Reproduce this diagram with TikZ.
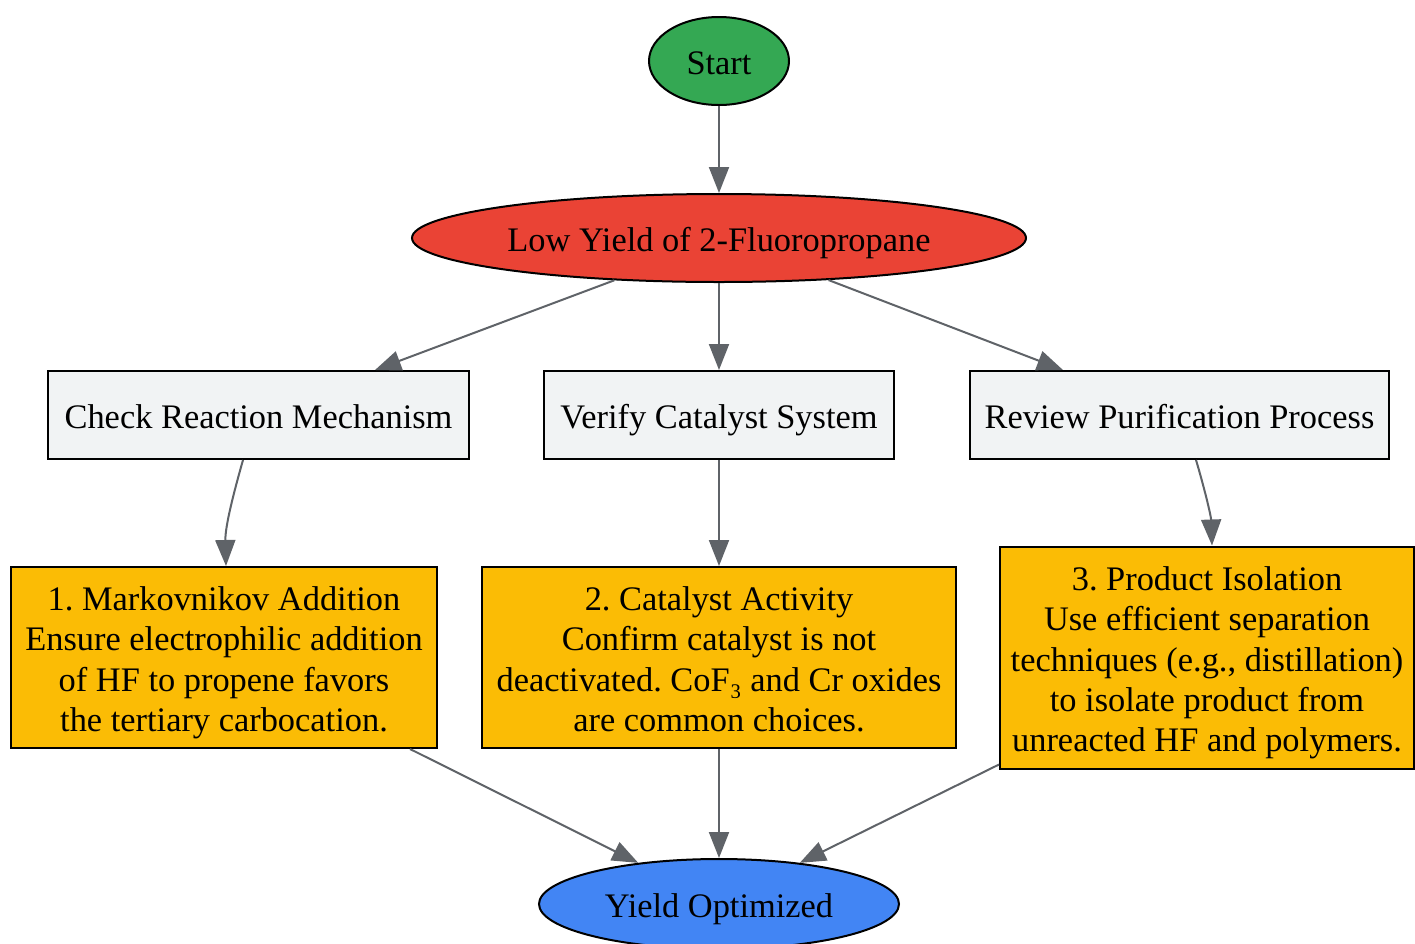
\documentclass[tikz,border=0pt]{standalone}
\usepackage{fontspec}
\setmainfont{Liberation Serif}
\usetikzlibrary{shapes.geometric,positioning,arrows.meta}

\definecolor{startgreen}{HTML}{34A853}
\definecolor{problemred}{HTML}{EA4335}
\definecolor{checkgray}{HTML}{F1F3F4}
\definecolor{fixyellow}{HTML}{FBBC05}
\definecolor{doneblue}{HTML}{4285F4}
\definecolor{edgegray}{HTML}{5F6368}
\newcommand{\topline}{\rule{0pt}{35pt}}
\frenchspacing

\begin{document}
\begin{tikzpicture}[x=1pt,y=-1pt,
      every node/.style={draw=black,line width=2pt,inner sep=4pt,
                         align=center,font=\fontsize{34.4}{40.4}\selectfont,
                         execute at begin node={\rule{0pt}{35pt}},
                         execute at end node={\rule[-8pt]{0pt}{8pt}}},
      oval/.style={ellipse,inner sep=0pt,minimum height=88pt},
      checkbox/.style={rectangle,fill=checkgray,minimum height=88pt},
      fixbox/.style={rectangle,fill=fixyellow},
      link/.style={draw=edgegray,line width=2pt,
                   -{Triangle[length=26pt,width=20pt]}},
    ]
      \useasboundingbox (0,0) rectangle (1415,943);
      \node[oval,fill=startgreen,minimum width=140pt] (start) at (719,61) {Start};
      \node[oval,fill=problemred,minimum width=614pt,below=87pt of start] (lowyield) {Low Yield of 2-Fluoropropane};
      \node[checkbox,minimum width=350pt,below=87pt of lowyield] (cat) {Verify Catalyst System};
      \node[checkbox,minimum width=421pt,left=73pt of cat] (mech) {Check Reaction Mechanism};
      \node[checkbox,minimum width=419pt,right=74pt of cat] (purif) {Review Purification Process};
      \node[fixbox,minimum width=474pt,minimum height=181pt,below=106pt of cat] (activity)
        {\topline 2. Catalyst Activity\\Confirm catalyst is not\\deactivated. CoF₃ and Cr oxides\\are common choices.};
      \node[fixbox,minimum width=426pt,minimum height=181pt,left=43pt of activity] (markov)
        {\topline 1. Markovnikov Addition\\Ensure electrophilic addition\\of HF to propene favors\\the tertiary carbocation.};
      \node[fixbox,minimum width=414pt,minimum height=222pt,right=42pt of activity] (isolation)
        {\topline 3. Product Isolation\\Use efficient separation\\techniques (e.g., distillation)\\to isolate product from\\unreacted HF and polymers.};
      \node[oval,fill=doneblue,minimum width=360pt,minimum height=90pt,below=109pt of activity] (optimized) {Yield Optimized};
      % edges
      \path[link] (start) -- (lowyield);
      \path[link] (lowyield.-158.7) -- ([xshift=116.5pt]mech.north);
      \path[link] (lowyield) -- (cat);
      \path[link] (lowyield.-21.2) -- ([xshift=-116.5pt]purif.north);
      \path[link] ([xshift=-15.5pt]mech.south) .. controls ([xshift=-24pt,yshift=-30pt]mech.south) and ([xshift=1pt,yshift=40pt]markov.north) .. ([xshift=2pt]markov.north);
      \path[link] (cat) -- (activity);
      \path[link] ([xshift=16.5pt]purif.south) .. controls ([xshift=24pt,yshift=-25pt]purif.south) and ([xshift=4pt,yshift=30pt]isolation.north) .. ([xshift=5pt]isolation.north);
      \path[link] ([xshift=186pt]markov.south) -- (optimized.153);
      \path[link] (activity) -- (optimized);
      \path[link] ([yshift=5pt]isolation.south west) -- (optimized.27);
    \end{tikzpicture}
\end{document}
